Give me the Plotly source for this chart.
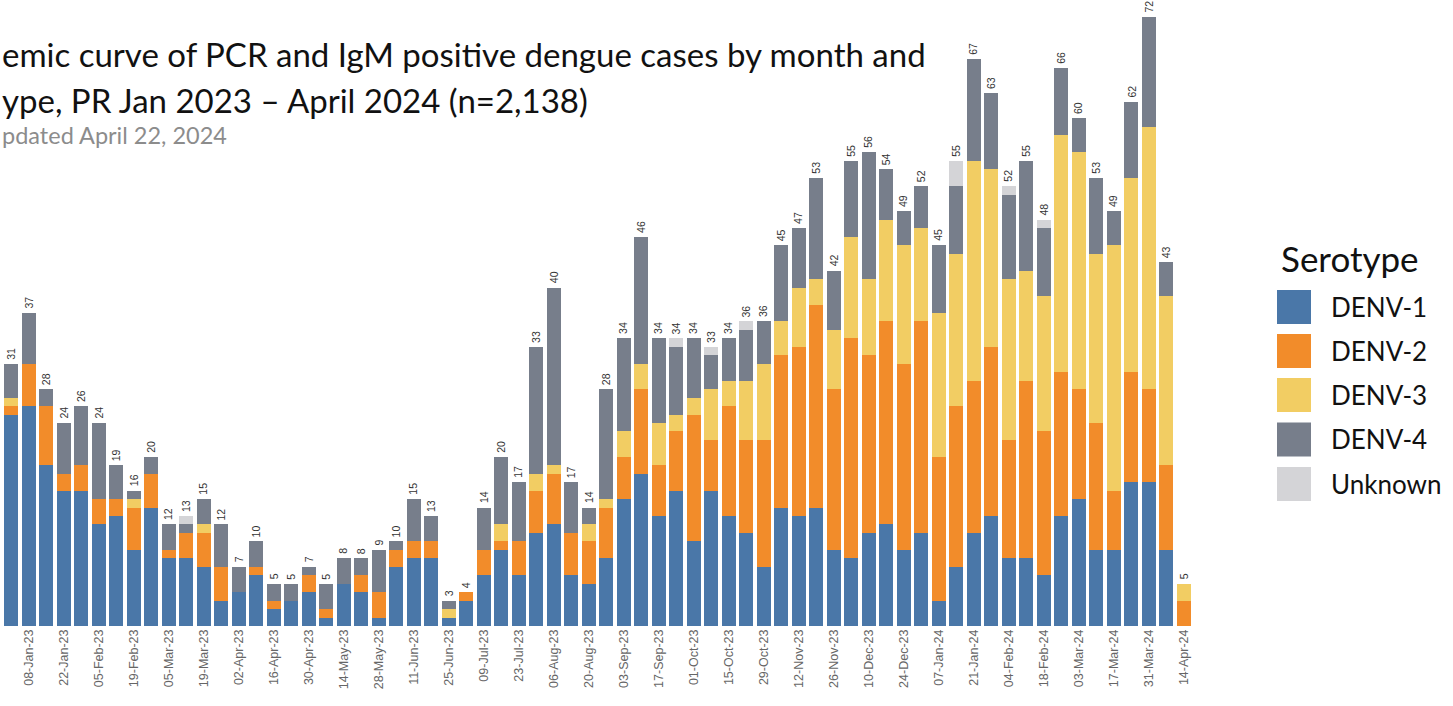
import plotly.graph_objects as go

# ---------------- data ----------------
weeks = [
    "01-Jan-23", "08-Jan-23", "15-Jan-23", "22-Jan-23", "29-Jan-23", "05-Feb-23", "12-Feb-23",
    "19-Feb-23", "26-Feb-23", "05-Mar-23", "12-Mar-23", "19-Mar-23", "26-Mar-23", "02-Apr-23",
    "09-Apr-23", "16-Apr-23", "23-Apr-23", "30-Apr-23", "07-May-23", "14-May-23", "21-May-23",
    "28-May-23", "04-Jun-23", "11-Jun-23", "18-Jun-23", "25-Jun-23", "02-Jul-23", "09-Jul-23",
    "16-Jul-23", "23-Jul-23", "30-Jul-23", "06-Aug-23", "13-Aug-23", "20-Aug-23", "27-Aug-23",
    "03-Sep-23", "10-Sep-23", "17-Sep-23", "24-Sep-23", "01-Oct-23", "08-Oct-23", "15-Oct-23",
    "22-Oct-23", "29-Oct-23", "05-Nov-23", "12-Nov-23", "19-Nov-23", "26-Nov-23", "03-Dec-23",
    "10-Dec-23", "17-Dec-23", "24-Dec-23", "31-Dec-23", "07-Jan-24", "14-Jan-24", "21-Jan-24",
    "28-Jan-24", "04-Feb-24", "11-Feb-24", "18-Feb-24", "25-Feb-24", "03-Mar-24", "10-Mar-24",
    "17-Mar-24", "24-Mar-24", "31-Mar-24", "07-Apr-24", "14-Apr-24",
]

denv1 = [25, 26, 19, 16, 16, 12, 13, 9, 14, 8, 8, 7, 3, 4, 6, 2, 3, 4, 1, 5, 4, 1, 7, 8, 8,
         1, 3, 6, 9, 6, 11, 12, 6, 5, 8, 15, 18, 13, 16, 10, 16, 13, 11, 7, 14, 13, 14, 9, 8,
         11, 12, 9, 11, 3, 7, 11, 13, 8, 8, 6, 13, 15, 9, 9, 17, 17, 9, 0]
denv2 = [1, 5, 7, 2, 3, 3, 2, 5, 4, 1, 3, 4, 4, 0, 1, 1, 0, 2, 1, 0, 2, 3, 2, 2, 2,
         0, 1, 3, 1, 4, 5, 6, 5, 5, 6, 5, 10, 6, 7, 15, 6, 13, 11, 15, 18, 20, 24, 19, 26,
         21, 24, 22, 25, 17, 19, 18, 20, 14, 21, 17, 17, 13, 15, 7, 13, 11, 10, 3]
denv3 = [1, 0, 0, 0, 0, 0, 0, 1, 0, 0, 0, 1, 0, 0, 0, 0, 0, 0, 0, 0, 0, 0, 0, 0, 0,
         1, 0, 0, 2, 0, 2, 1, 0, 2, 1, 3, 3, 5, 2, 2, 6, 3, 7, 9, 4, 7, 3, 7, 12,
         9, 12, 14, 11, 17, 18, 26, 21, 19, 13, 16, 28, 28, 20, 29, 23, 31, 20, 2]
denv4 = [4, 6, 2, 6, 7, 9, 4, 1, 2, 3, 1, 3, 5, 3, 3, 2, 2, 1, 3, 3, 2, 5, 1, 5, 3,
         1, 0, 5, 8, 7, 15, 21, 6, 2, 13, 11, 15, 10, 8, 7, 4, 5, 6, 5, 9, 7, 12, 7, 9,
         15, 6, 4, 5, 8, 8, 12, 9, 10, 13, 8, 8, 4, 9, 4, 9, 13, 4, 0]
unknown = [0, 0, 0, 0, 0, 0, 0, 0, 0, 0, 1, 0, 0, 0, 0, 0, 0, 0, 0, 0, 0, 0, 0, 0, 0,
           0, 0, 0, 0, 0, 0, 0, 0, 0, 0, 0, 0, 0, 1, 0, 1, 0, 1, 0, 0, 0, 0, 0, 0,
           0, 0, 0, 0, 0, 3, 0, 0, 1, 0, 1, 0, 0, 0, 0, 0, 0, 0, 0]

serotypes = ["DENV-1", "DENV-2", "DENV-3", "DENV-4", "Unknown"]
series = [denv1, denv2, denv3, denv4, unknown]
colors = ["#4A77A8", "#F28C2A", "#F2CD63", "#777E8B", "#D4D4D7"]

totals = [sum(v) for v in zip(*series)]

# visible title text (the source slide is cropped at its left edge)
title_line1 = "emic curve of PCR and IgM positive dengue cases by month and"
title_line2 = "ype, PR Jan 2023 \u2013 April 2024 (n=2,138)"
title_line3 = "pdated April 22, 2024"

# ---------------- geometry helpers ----------------
W, H = 1453, 706
ML, MR, MT, MB = 0, 253, 0, 80
PW, PH = W - ML - MR, H - MT - MB


def pxx(x):
    return (x - ML) / PW


def pxy(y):
    return (H - MB - y) / PH


fig = go.Figure()
for name, vals, col in zip(serotypes, series, colors):
    fig.add_trace(go.Bar(
        x=weeks, y=vals, name=name, marker=dict(color=col, line=dict(width=0)),
        showlegend=False,
    ))

annotations = []
# total labels on top of each bar (rotated)
for wk, tot in zip(weeks, totals):
    annotations.append(dict(
        x=wk, y=tot, xref="x", yref="y", text=str(tot), showarrow=False,
        textangle=-90, yanchor="bottom", xanchor="center", yshift=2,
        font=dict(family="Liberation Sans, Arial, sans-serif", size=10.5, color="#333333"),
    ))

# titles
annotations.append(dict(
    x=pxx(0), y=pxy(54), xref="paper", yref="paper", xanchor="left", yanchor="middle",
    text=title_line1, showarrow=False,
    font=dict(family="Lato, sans-serif", size=33, color="#111111"),
))
annotations.append(dict(
    x=pxx(0), y=pxy(100), xref="paper", yref="paper", xanchor="left", yanchor="middle",
    text=title_line2, showarrow=False,
    font=dict(family="Lato, sans-serif", size=33, color="#111111"),
))
annotations.append(dict(
    x=pxx(0), y=pxy(135), xref="paper", yref="paper", xanchor="left", yanchor="middle",
    text=title_line3, showarrow=False,
    font=dict(family="Lato, sans-serif", size=23.5, color="#8C8C8C"),
))

# custom legend
annotations.append(dict(
    x=pxx(1279), y=pxy(258), xref="paper", yref="paper", xanchor="left", yanchor="middle",
    text="Serotype", showarrow=False,
    font=dict(family="Lato, sans-serif", size=35, color="#111111"),
))
shapes = []
legend_top = [290, 334, 378, 422.5, 467]
for name, col, top in zip(serotypes, colors, legend_top):
    shapes.append(dict(
        type="rect", xref="paper", yref="paper",
        x0=pxx(1277), x1=pxx(1311), y0=pxy(top + 34), y1=pxy(top),
        fillcolor=col, line=dict(width=0),
    ))
    annotations.append(dict(
        x=pxx(1329), y=pxy(top + 17), xref="paper", yref="paper", xanchor="left",
        yanchor="middle", text=name, showarrow=False,
        font=dict(family="Lato, sans-serif", size=26, color="#111111"),
    ))

fig.update_layout(
    width=W, height=H,
    margin=dict(l=ML, r=MR, t=MT, b=MB, pad=0),
    barmode="stack", bargap=0.2,
    plot_bgcolor="white", paper_bgcolor="white",
    xaxis=dict(
        type="category", range=[-0.63, 67.94], tickmode="array", tickvals=weeks[1::2],
        tickangle=-90, showgrid=False, zeroline=False, showline=False, ticks="",
        tickfont=dict(family="Liberation Sans, Arial, sans-serif", size=12.5, color="#666666"),
    ),
    yaxis=dict(visible=False, range=[0, 74], showgrid=False, zeroline=False),
    annotations=annotations, shapes=shapes,
)

fig.write_html("out.html", config={"displayModeBar": False},
               post_script="document.body.style.margin='0';")
